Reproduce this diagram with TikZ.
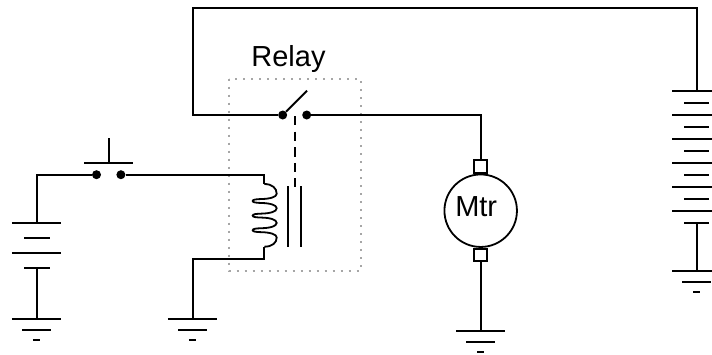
\documentclass[tikz,border=0pt]{standalone}
\usepackage{fontspec}
\setmainfont{Liberation Sans}
\usetikzlibrary{positioning}
\tikzset{
    wire/.style={line width=2pt},
    contact/.style={circle, fill=black, inner sep=0pt, minimum size=9pt},
    motor/.style={circle, draw, line width=1.8pt, inner sep=0pt, minimum size=72.5pt},
    brush/.style={rectangle, draw, line width=1.8pt, inner sep=0pt, minimum width=12.7pt, minimum height=12.4pt},
    label text/.style={font=\fontsize{29}{32}\selectfont, inner sep=0pt, anchor=base},
    pics/earth/.style={code={
        \draw [wire] (-24.7,0) -- (24.7,0);
        \draw [wire] (-14.3,10.7) -- (14.3,10.7);
        \draw [wire] (-3.7,21) -- (3.7,21);
    }}
}
\newcommand{\coilturn}[1]{.. controls (276.7,#1-4) and (270,#1-2.2) .. (262,#1-2)
    .. controls (256,#1-1.8) and (252.7,#1-1.5) .. (252.7,#1)
    .. controls (252.7,#1+1.5) and (256,#1+1.8) .. (262,#1+2)
    .. controls (270,#1+2.2) and (276.7,#1+4) .. (276.7,#1+7.3)}
\begin{document}
\begin{tikzpicture}[x=1pt, y=-1pt]
    \useasboundingbox (0,0) rectangle (712,354);
    % relay outline
    \draw [gray!70, line width=1.8pt, dash pattern=on 2pt off 6pt] (228.7,78.7) rectangle (360.7,270.7);
    \node (relay) [label text] at (288.5,66.7) {Relay};

    % contacts
    \node (pb1) [contact] at (96.5,174.7) {};
    \node (pb2) [contact, right = 15pt of pb1] {};
    \node (sw1) [contact] at (282.7,115) {};
    \node (sw2) [contact, right = 14.6pt of sw1] {};

    % motor
    \node (mtr) [motor] at (480.7,210.7) {};
    \node (mtrtext) [label text] at (476.2,216.7) {Mtr};
    \node (brtop) [brush, above = 0pt of mtr] {};
    \node (brbot) [brush, below = 0pt of mtr] {};

    % end points
    \coordinate (batl) at (36.5,223);
    \coordinate (batlb) at (36.5,268);
    \coordinate (gndl) at (36.5,319);
    \coordinate (gndc) at (192.5,319);
    \coordinate (gndm) at (480.7,331);
    \coordinate (batr) at (696.7,90.7);
    \coordinate (batrb) at (696.7,223);
    \coordinate (gndr) at (696.7,271);
    \coordinate (cointop) at (264.3,184);
    \coordinate (coinbot) at (264.3,246.7);
    \coordinate (cornertop) at (264.3,174.7);
    \coordinate (cornerbot) at (264.3,258.7);

    % grounds
    \pic at (gndl) {earth};
    \pic at (gndc) {earth};
    \pic at (gndm) {earth};
    \pic at (gndr) {earth};

    % wires
    \draw [wire] (batl) |- (pb1);
    \draw [wire] (pb2) -- (cornertop) -- (cointop);
    \draw [wire] (coinbot) -- (cornerbot) -| (gndc);
    \draw [wire] (batlb) -- (gndl);
    \draw [wire] (sw1) -| (192.5,8) -| (batr);
    \draw [wire] (sw2) -| (brtop);
    \draw [wire] (brbot) -- (gndm);
    \draw [wire] (batrb) -- (gndr);

    % batteries
    \foreach \y in {223,253}
        \draw [wire] (11.8,\y) -- (61.2,\y);
    \foreach \y in {238,268}
        \draw [wire] (24,\y) -- (49.6,\y);
    \foreach \y in {90.7,114.7,138.7,162.7,186.7,210.7}
        \draw [wire] (672,\y) -- (721.4,\y);
    \foreach \y in {103,127,151,175,199,223}
        \draw [wire] (684,\y) -- (709.3,\y);

    % pushbutton and relay armature
    \draw [wire] (84,163) -- (133.4,163);
    \draw [wire] (108.7,163) -- (108.7,138);
    \draw [wire] (sw1) -- (307,90.7);
    \draw [wire, dash pattern=on 9.3pt off 6.3pt] (294.7,116) -- (294.7,187);

    % coil
    \draw [wire, line width=1.8pt] (cointop) .. controls (272,184) and (276.7,188) .. (276.7,193.7)
        \coilturn{201} \coilturn{215.6} \coilturn{230.2}
        .. controls (276.7,243) and (272,246.7) .. (coinbot);
    \draw [wire] (288.3,186) -- (288.3,247.3);
    \draw [wire] (300.7,186) -- (300.7,247.3);
\end{tikzpicture}
\end{document}
